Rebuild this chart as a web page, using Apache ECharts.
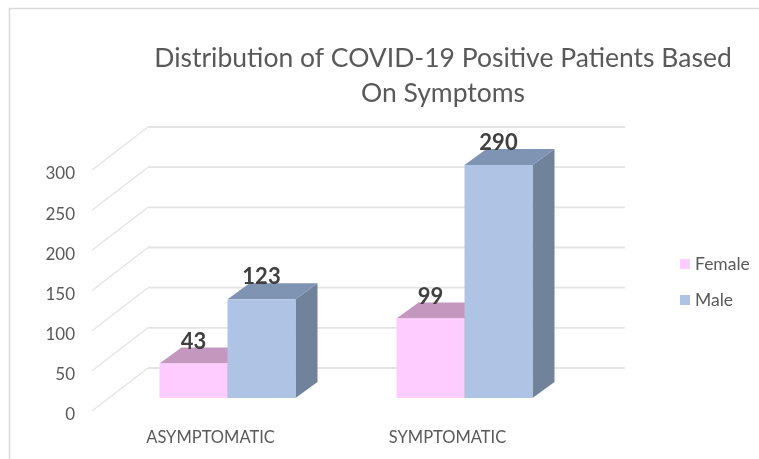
<!DOCTYPE html>
<html>
<head>
<meta charset="utf-8">
<style>html,body{margin:0;padding:0;background:#fff}#c{width:759px;height:459px}</style>
<script src="https://cdn.jsdelivr.net/npm/echarts@6/dist/echarts.min.js"></script>
</head>
<body>
<div id="c"></div>
<script>
const titleText = 'Distribution of COVID-19 Positive Patients Based\nOn Symptoms';
const categories = ['ASYMPTOMATIC', 'SYMPTOMATIC'];
const female = [43, 99];
const male = [123, 290];
const yTicks = [0, 50, 100, 150, 200, 250, 300];

const FONT = 'Lato';
const TEXT = '#595959';
// pseudo-3D projection constants
const WALL_DX = 56, WALL_DY = -43, WALL_EXTRA = 59;
const BAR_DX = 17, BAR_DY = -13;
const DEPTH_DX = 22, DEPTH_DY = -16;
const BAR_RATIO = 68 / 237;

function wallRender(params, api) {
  const cs = params.coordSys;
  const y = api.coord([0, api.value(1)])[1];
  const x0 = cs.x, xb = cs.x + WALL_DX, xr = cs.x + cs.width + WALL_EXTRA, yb = y + WALL_DY;
  return {
    type: 'group',
    children: [
      { type: 'line', shape: { x1: x0, y1: y, x2: xb, y2: yb }, style: { stroke: '#e4e4e4', lineWidth: 1.3 } },
      { type: 'line', shape: { x1: xb, y1: yb, x2: xr, y2: yb }, style: { stroke: '#e4e4e4', lineWidth: 1.8 } }
    ]
  };
}

function barRender(colors, side) {
  return function (params, api) {
    const top = api.coord([api.value(0), api.value(1)]);
    const base = api.coord([api.value(0), 0]);
    const w = api.size([1, 0])[0] * BAR_RATIO;
    const xl = top[0] + BAR_DX + (side < 0 ? -w : 0);
    const xr = xl + w;
    const yt = top[1] + BAR_DY;
    const yb = base[1] + BAR_DY;
    const children = [
      { type: 'polygon', shape: { points: [[xr, yt], [xr + DEPTH_DX, yt + DEPTH_DY], [xr + DEPTH_DX, yb + DEPTH_DY], [xr, yb]] }, style: { fill: colors.side } },
      { type: 'polygon', shape: { points: [[xl, yt], [xl + DEPTH_DX, yt + DEPTH_DY], [xr + DEPTH_DX, yt + DEPTH_DY], [xr, yt]] }, style: { fill: colors.top } },
      { type: 'rect', shape: { x: xl, y: yt, width: w, height: yb - yt }, style: { fill: colors.front } },
      { type: 'text', z2: 50, style: { x: (xl + xr) / 2, y: yt - 22, text: String(api.value(1)), fill: '#404040', font: 'bold 22px ' + FONT, textAlign: 'center', textVerticalAlign: 'middle' } }
    ];
    return { type: 'group', children };
  };
}

const chart = echarts.init(document.getElementById('c'), null, { renderer: 'canvas' });
chart.setOption({
  animation: false,
  backgroundColor: '#ffffff',
  title: {
    text: titleText,
    left: 438, top: 36,
    textAlign: 'center',
    textStyle: { fontFamily: FONT, fontSize: 26.5, fontWeight: 'normal', color: TEXT, lineHeight: 35 }
  },
  graphic: [{
    type: 'rect', silent: true, z: -1,
    shape: { x: 9.5, y: 8.5, width: 800, height: 500 },
    style: { fill: 'none', stroke: '#d9d9d9', lineWidth: 1.5 }
  }],
  legend: {
    data: ['Female', 'Male'],
    orient: 'vertical',
    left: 675, top: 250,
    icon: 'rect', itemWidth: 10, itemHeight: 10, itemGap: 18,
    textStyle: { fontFamily: FONT, fontSize: 17.5, color: TEXT }
  },
  grid: { left: 92, top: 170, width: 474, height: 241 },
  xAxis: {
    type: 'category',
    data: categories,
    axisLine: { show: false }, axisTick: { show: false },
    axisLabel: { fontFamily: FONT, fontSize: 16.5, color: TEXT, margin: 18 }
  },
  yAxis: {
    type: 'value', min: 0, max: 300, interval: 50,
    axisLine: { show: false }, axisTick: { show: false }, splitLine: { show: false },
    axisLabel: { fontFamily: FONT, fontSize: 17, color: TEXT, margin: 17, verticalAlign: 'top', lineHeight: 8 }
  },
  series: [
    { type: 'custom', name: 'walls', silent: true, z: 1, clip: false, renderItem: wallRender,
      encode: { x: 0, y: 1 }, data: yTicks.map(t => [0, t]) },
    { type: 'custom', name: 'Female', z: 2, clip: false, itemStyle: { color: '#FFCCFF' },
      renderItem: barRender({ front: '#FFCCFF', top: '#C497BE', side: '#B58FB0' }, -1),
      encode: { x: 0, y: 1 }, data: female.map((v, i) => [i, v]) },
    { type: 'custom', name: 'Male', z: 3, clip: false, itemStyle: { color: '#AFC4E4' },
      renderItem: barRender({ front: '#AFC4E4', top: '#7F93B3', side: '#71829B' }, 1),
      encode: { x: 0, y: 1 }, data: male.map((v, i) => [i, v]) }
  ]
});
</script>
</body>
</html>
